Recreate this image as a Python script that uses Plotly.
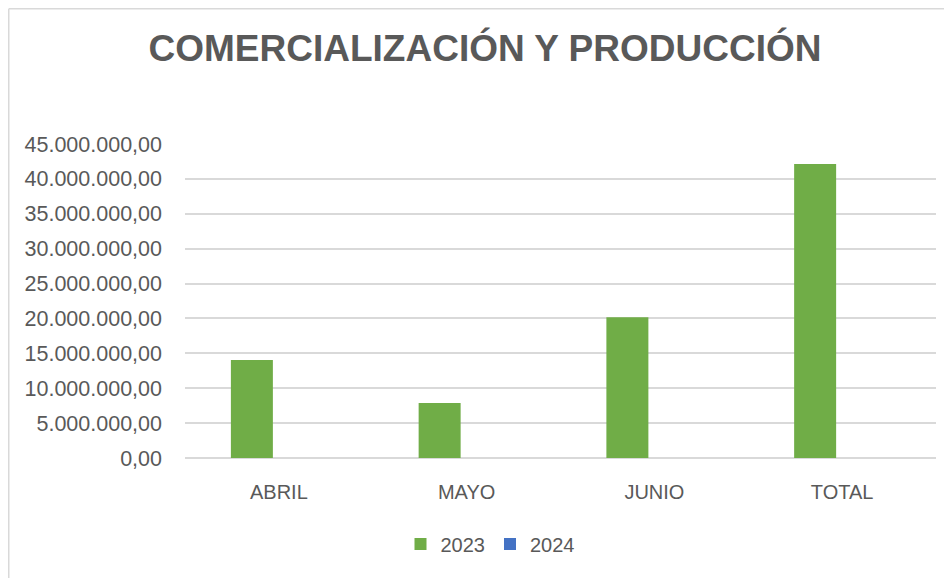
import plotly.graph_objects as go

categories = ["ABRIL", "MAYO", "JUNIO", "TOTAL"]
values_2023 = [14050000, 7900000, 20170000, 42120000]
values_2024 = [0, 0, 0, 0]
tick_vals = [0, 5000000, 10000000, 15000000, 20000000, 25000000, 30000000, 35000000, 40000000, 45000000]
tick_text = ["0,00", "5.000.000,00", "10.000.000,00", "15.000.000,00", "20.000.000,00",
             "25.000.000,00", "30.000.000,00", "35.000.000,00", "40.000.000,00", "45.000.000,00"]

# page has an 8px body margin; figure coordinates = page coordinates - 8
W, H = 944, 570
ml, mr, mt, mb = 177, 16, 136, 120

fig = go.Figure()
fig.add_trace(go.Bar(name="2023", x=categories, y=values_2023, marker_color="#70AD47",
                     marker_line_width=0))
fig.add_trace(go.Bar(name="2024", x=categories, y=values_2024, marker_color="#4472C4",
                     marker_line_width=0))

pw = W - ml - mr
ph = H - mt - mb
plot_bottom = H - mb

fig.update_layout(
    width=W, height=H,
    margin=dict(l=ml, r=mr, t=mt, b=mb, pad=0, autoexpand=False),
    paper_bgcolor="white", plot_bgcolor="white",
    barmode="group", bargap=0.425, bargroupgap=0.222,
    title=dict(text="<b>COMERCIALIZACIÓN Y PRODUCCIÓN</b>", x=477 / W, xref="container",
               xanchor="center", y=1 - 40 / H, yref="container", yanchor="middle",
               font=dict(family="Liberation Sans, Arial", size=37, color="#595959")),
    font=dict(family="Liberation Sans, Arial", color="#595959", size=20),
    xaxis=dict(showgrid=False, showline=False, ticks="", ticklabelstandoff=20,
               tickfont=dict(size=20, color="#595959")),
    yaxis=dict(range=[0, 45000000], tickvals=tick_vals, ticktext=tick_text,
               showgrid=True, gridcolor="#D9D9D9", gridwidth=1.5,
               zeroline=True, zerolinecolor="#D9D9D9", zerolinewidth=1.5,
               showline=False, ticks="", ticklabelstandoff=22,
               tickfont=dict(size=21.5, color="#595959")),
    legend=dict(orientation="h", x=(482 - ml) / pw, xanchor="center",
                y=(plot_bottom - 536) / ph, yanchor="middle",
                font=dict(size=20, color="#595959"), itemwidth=30, traceorder="normal"),
    shapes=[
        dict(type="line", xref="paper", yref="paper",
             x0=(0.75 - ml) / pw, x1=(W - ml) / pw,
             y0=(plot_bottom - 0.75) / ph, y1=(plot_bottom - 0.75) / ph,
             line=dict(color="#D9D9D9", width=1.5), layer="below"),
        dict(type="line", xref="paper", yref="paper",
             x0=(0.75 - ml) / pw, x1=(0.75 - ml) / pw,
             y0=(plot_bottom - H) / ph, y1=(plot_bottom - 0.75) / ph,
             line=dict(color="#D9D9D9", width=1.5), layer="below"),
    ],
)

fig.write_html("out.html")
